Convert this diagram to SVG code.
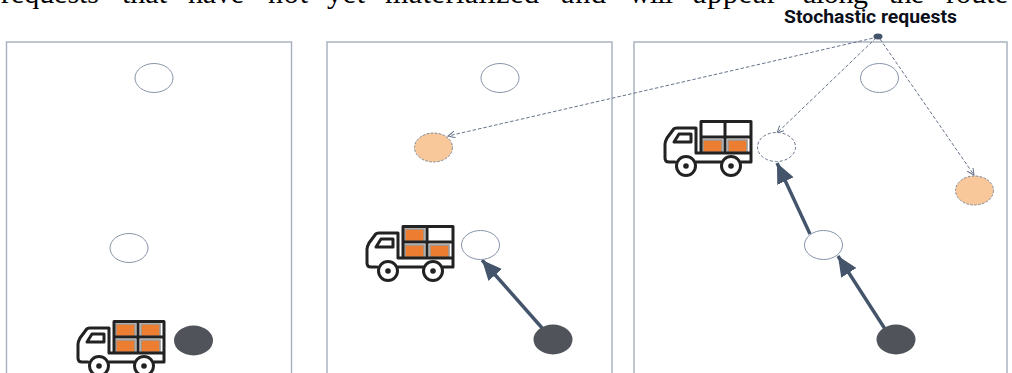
<svg xmlns="http://www.w3.org/2000/svg" width="1012" height="373" viewBox="0 0 1012 373">
<style>
.panel{fill:none;stroke:#a6aebd;stroke-width:1.4}
.n{fill:#fff;stroke:#8794a8;stroke-width:1}
.d{fill:#50535a;stroke:none}
.s{fill:#f8c89a;stroke:#7a8799;stroke-width:1;stroke-dasharray:2.5 1.5}
.r{fill:#fff;stroke:#66738a;stroke-width:1;stroke-dasharray:3 2}
.solid{stroke:#44546a;stroke-width:3.4;fill:none}
.dash{stroke:#66738a;stroke-width:1;fill:none;stroke-dasharray:3.5 2}
.hd{font-family:"Liberation Serif",serif;font-size:30px;fill:#000}
.lb{font-family:Roboto,"Liberation Sans",sans-serif;font-weight:700;font-size:19px;fill:#0b0f1a}
.tl{fill:none;stroke:#222;stroke-width:3;stroke-linejoin:round;stroke-linecap:round}
.wh{fill:#fff;stroke:#222;stroke-width:3}
.box{fill:#ed7d31;stroke:#9a9a9a;stroke-width:1.600}
</style>
<defs>
<marker id="big" markerUnits="userSpaceOnUse" markerWidth="22" markerHeight="20" refX="20" refY="9" orient="auto"><path d="M0 0L20 9L0 18Z" fill="#44546a"/></marker>
<marker id="small" markerUnits="userSpaceOnUse" markerWidth="9" markerHeight="9" refX="7" refY="3.500" orient="auto"><path d="M0 0L7 3.500L0 7" fill="none" stroke="#66738a" stroke-width="1"/></marker>
<g id="truck">
<path class="tl" d="M36 33V1.500H86V42M36 17H86M60 1.500V33M31 33H86M86 42H76M56 42H31M10 42H4C1 42 0 40 0 38V24C0 22 1 20 2 18L8 10C9 8 10 8 12 8H31V33"/>
<path class="tl" d="M9 22L14 14H26V22Z"/>
<circle class="wh" cx="21" cy="46" r="9.500"/><circle cx="21" cy="46" r="2.800" fill="#222"/>
<circle class="wh" cx="66" cy="46" r="9.500"/><circle cx="66" cy="46" r="2.800" fill="#222"/>
</g>
</defs>
<g id="heading" class="hd">
<text x="1" y="3" textLength="98">requests</text>
<text x="122" y="3" textLength="45">that</text>
<text x="188" y="3" textLength="56">have</text>
<text x="268" y="3" textLength="40">not</text>
<text x="327" y="3" textLength="38">yet</text>
<text x="385" y="3" textLength="154">materialized</text>
<text x="561" y="3" textLength="45">and</text>
<text x="629" y="3" textLength="44">will</text>
<text x="693" y="3" textLength="84">appear</text>
<text x="803" y="3" textLength="65">along</text>
<text x="889" y="3" textLength="35">the</text>
<text x="946" y="3" textLength="62">route</text>
</g>
<rect class="panel" x="6.500" y="42" width="285" height="340"/>
<rect class="panel" x="327" y="42" width="285" height="340"/>
<rect class="panel" x="634" y="42" width="373" height="340"/>
<g id="connectors">
<path class="solid" d="M543 329L482 260" marker-end="url(#big)"/>
<path class="solid" d="M885 329L838 256" marker-end="url(#big)"/>
<path class="solid" d="M810 234L777 163" marker-end="url(#big)"/>
<path class="dash" d="M878 37L448 136" marker-end="url(#small)"/>
<path class="dash" d="M876 38L777 133" marker-end="url(#small)"/>
<path class="dash" d="M880 39L974 175" marker-end="url(#small)"/>
</g>
<g id="p1-a"><ellipse class="n" cx="154" cy="78" rx="19" ry="14.500"/></g>
<g id="p1-b"><ellipse class="n" cx="129" cy="248" rx="19" ry="14.500"/></g>
<g id="p1-depot"><ellipse class="d" cx="193.500" cy="340.500" rx="19.500" ry="15"/></g>
<g id="p2-a"><ellipse class="n" cx="500" cy="78" rx="19" ry="14.500"/></g>
<g id="p2-s"><ellipse class="s" cx="433.500" cy="147.500" rx="19" ry="14.500"/></g>
<g id="p2-b"><ellipse class="n" cx="480.500" cy="245" rx="19" ry="14.500"/></g>
<g id="p2-depot"><ellipse class="d" cx="553" cy="339.500" rx="19.500" ry="15"/></g>
<g id="p3-a"><ellipse class="n" cx="879.500" cy="78" rx="19" ry="14.500"/></g>
<g id="p3-r"><ellipse class="r" cx="776.500" cy="147" rx="19" ry="14.500"/></g>
<g id="p3-s"><ellipse class="s" cx="974.500" cy="190.500" rx="19" ry="14.500" stroke-dasharray="1.500 1.500"/></g>
<g id="p3-b"><ellipse class="n" cx="823.500" cy="245" rx="19" ry="14.500"/></g>
<g id="p3-depot"><ellipse class="d" cx="896" cy="339.500" rx="19.500" ry="15"/></g>
<g id="source"><ellipse cx="878" cy="36.500" rx="4.500" ry="3" fill="#44546a"/></g>
<text class="lb" id="label" x="784" y="22.500" textLength="173" lengthAdjust="spacingAndGlyphs">Stochastic requests</text>
<g id="truck1" transform="translate(78 320)">
<rect class="box" x="38" y="4" width="19" height="12.500"/><rect class="box" x="63" y="4" width="19" height="12.500"/><rect class="box" x="38" y="20" width="19" height="12.500"/><rect class="box" x="63" y="20" width="19" height="12.500"/>
<use href="#truck"/></g>
<g id="truck2" transform="translate(367 225)">
<rect class="box" x="38" y="4" width="19" height="12.500"/><rect class="box" x="38" y="20" width="19" height="12.500"/><rect class="box" x="63" y="20" width="19" height="12.500"/>
<use href="#truck"/></g>
<g id="truck3" transform="translate(665 120)">
<rect class="box" x="38" y="20" width="19" height="12.500"/><rect class="box" x="63" y="20" width="19" height="12.500"/>
<use href="#truck"/></g>
</svg>
